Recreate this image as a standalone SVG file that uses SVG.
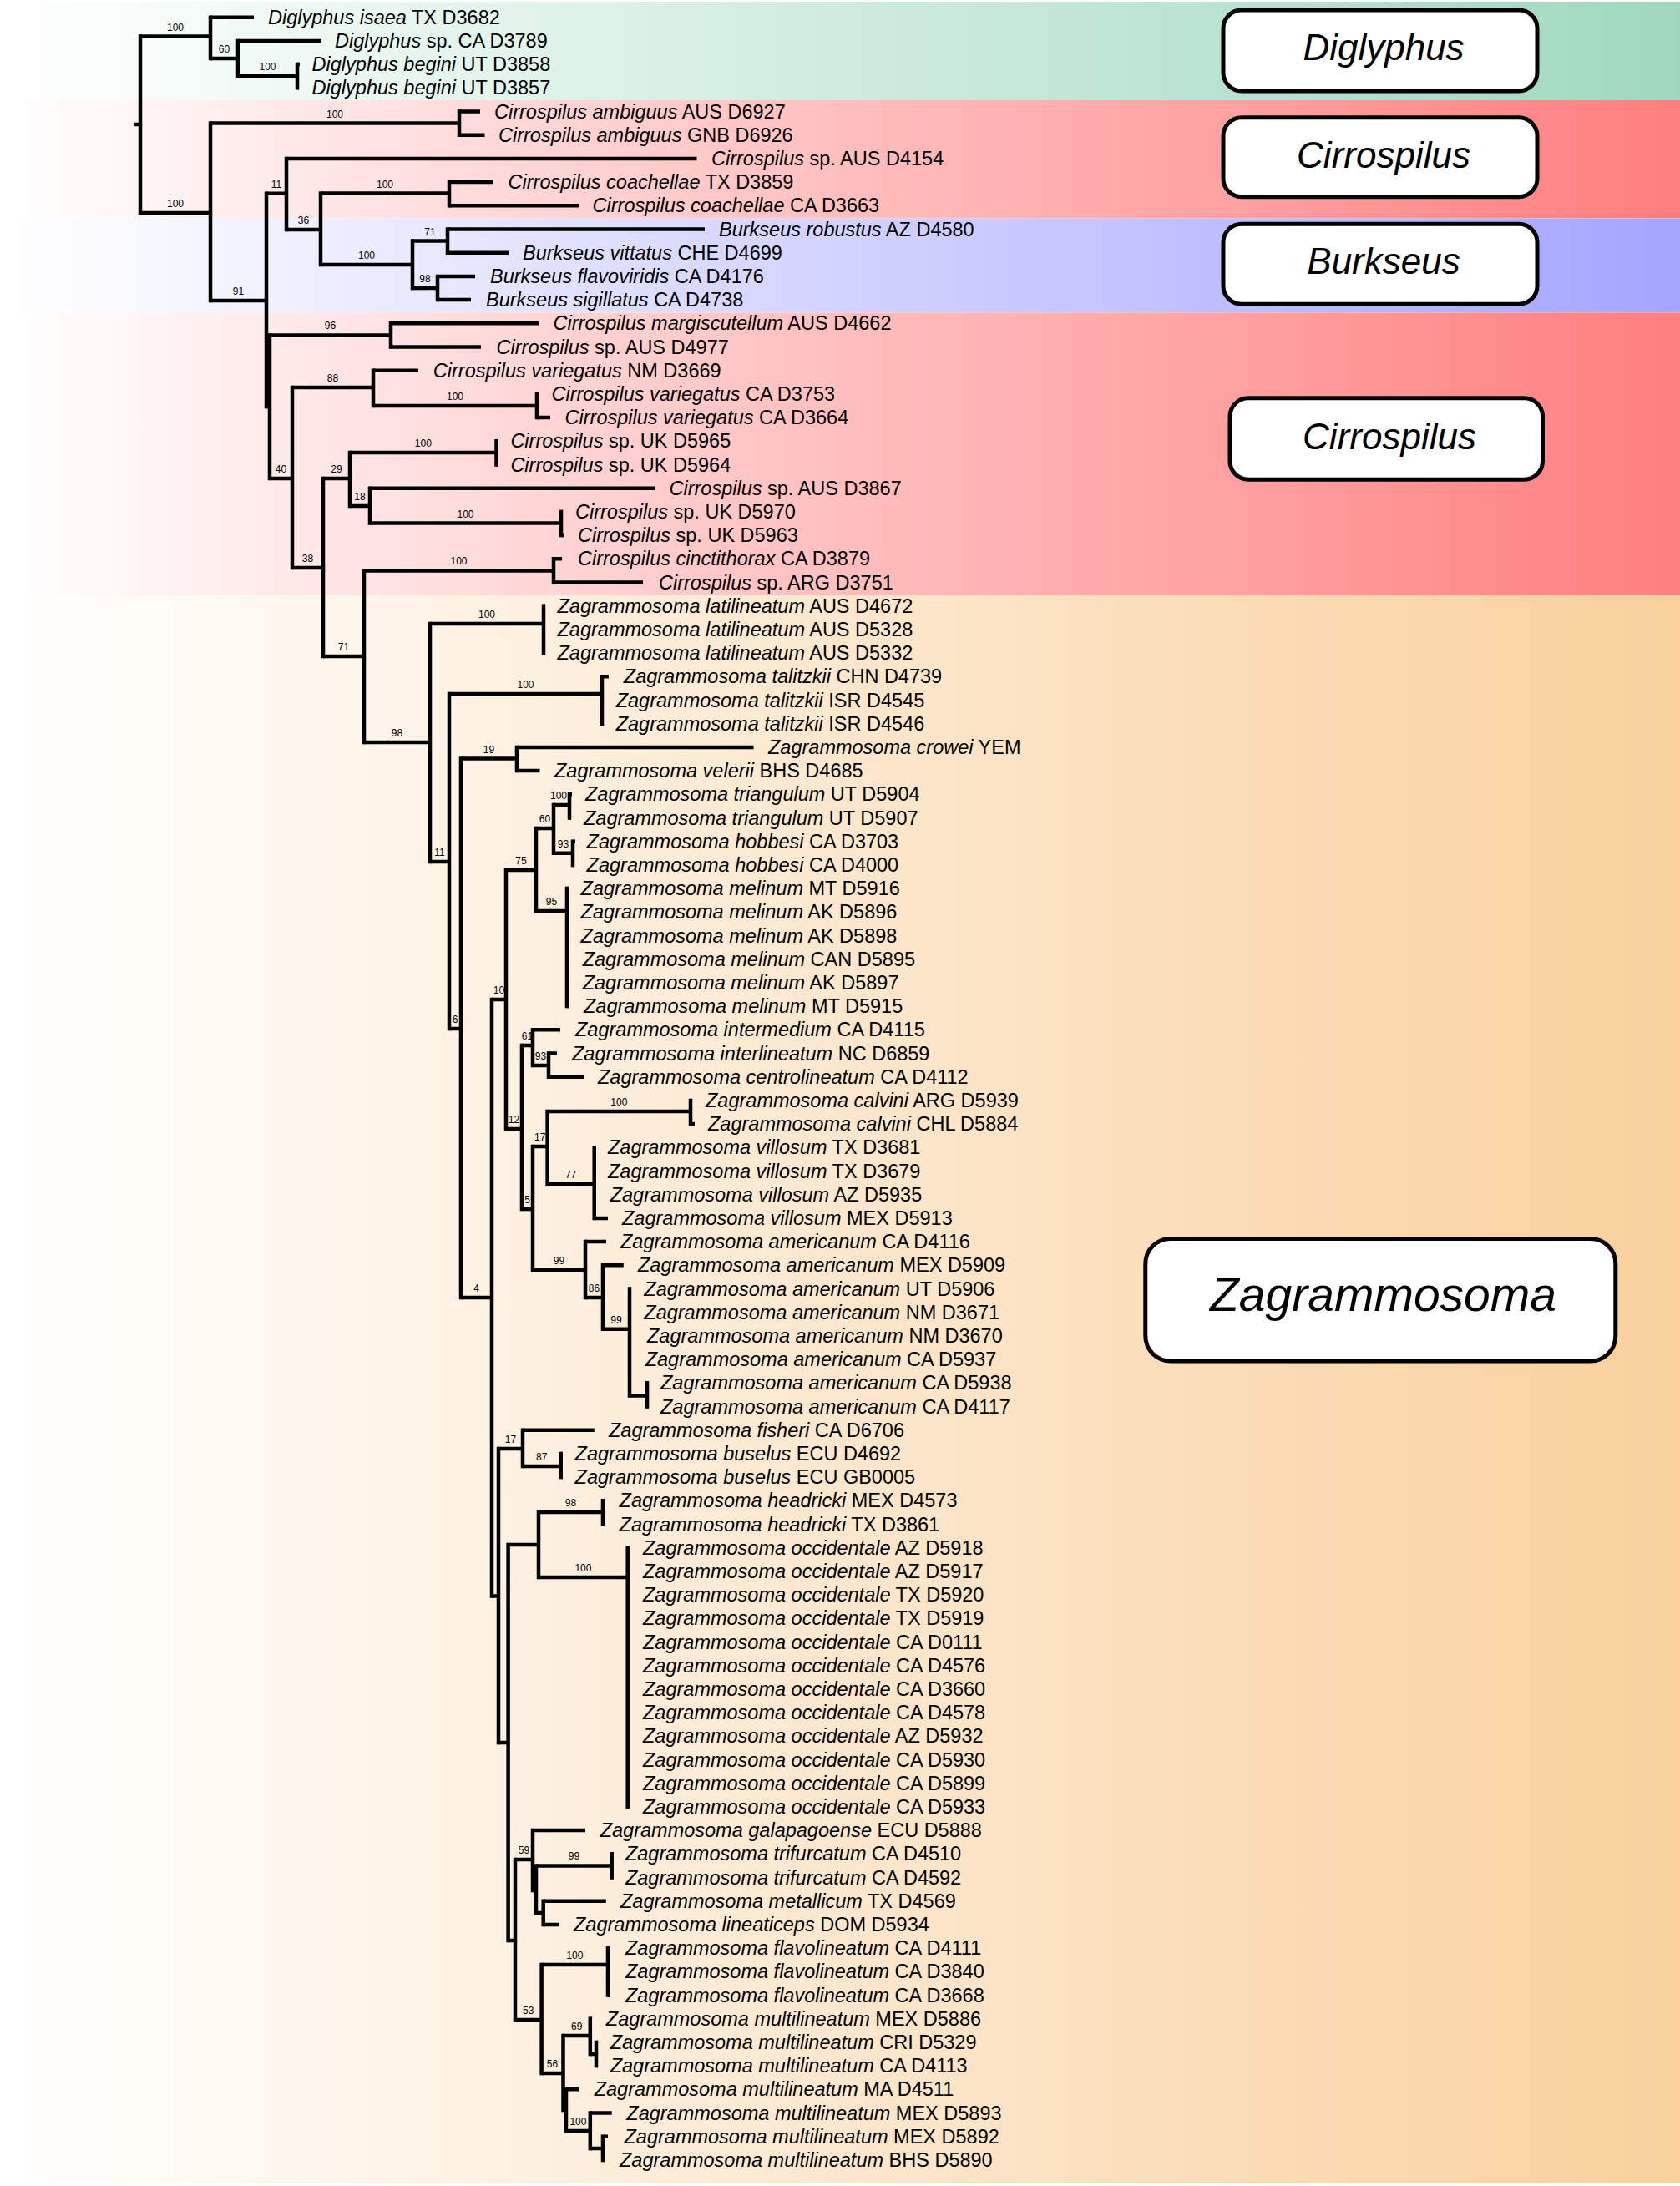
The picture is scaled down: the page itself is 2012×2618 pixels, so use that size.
<svg xmlns="http://www.w3.org/2000/svg" width="2012" height="2618" viewBox="0 0 2012 2618">
<defs>
<linearGradient id="gG" gradientUnits="userSpaceOnUse" x1="0" y1="0" x2="2012" y2="0"><stop offset="0" stop-color="#ffffff"/><stop offset="1" stop-color="#9fd8bf"/></linearGradient>
<linearGradient id="gR" gradientUnits="userSpaceOnUse" x1="0" y1="0" x2="2012" y2="0"><stop offset="0" stop-color="#ffffff"/><stop offset="1" stop-color="#ff7e7e"/></linearGradient>
<linearGradient id="gB" gradientUnits="userSpaceOnUse" x1="0" y1="0" x2="2012" y2="0"><stop offset="0" stop-color="#ffffff"/><stop offset="1" stop-color="#a5a5ff"/></linearGradient>
<linearGradient id="gO" gradientUnits="userSpaceOnUse" x1="0" y1="0" x2="2012" y2="0"><stop offset="0" stop-color="#ffffff"/><stop offset="1" stop-color="#f9d09c"/></linearGradient>
<style>
.v{fill:none;stroke:#000;stroke-width:4.5;stroke-linecap:square}
.h{fill:none;stroke:#000;stroke-width:4.5;stroke-linecap:butt}
.lf{font-family:"Liberation Sans",Arial,sans-serif;font-size:23.5px;fill:#000}
.i{font-style:italic}
.bs{font-family:"Liberation Sans",Arial,sans-serif;font-size:12px;text-anchor:middle;fill:#000}
.box rect{fill:#fff;stroke:#000;stroke-width:5}
.box text{font-family:"Liberation Sans",Arial,sans-serif;font-style:italic;text-anchor:middle;fill:#000}
</style>
</defs>
<rect width="2012" height="2618" fill="#fff"/>
<g id="bands">
<rect x="0" y="2" width="2012" height="118" fill="url(#gG)"/>
<rect x="0" y="120" width="2012" height="141.5" fill="url(#gR)"/>
<rect x="0" y="261.5" width="2012" height="113" fill="url(#gB)"/>
<rect x="0" y="374.5" width="2012" height="338.5" fill="url(#gR)"/>
<rect x="0" y="713" width="2012" height="1902" fill="url(#gO)"/>
</g>
<g id="branches">
<path class="v" d="M168 43.5V255 M252 20.7V70 M285 48.9V91.2 M356 77.1V105.3 M252 147.6V360 M550 133.5V161.7 M319 231.7V487 M343 189.9V275 M384 231.5V317 M538 218.1V246.3 M494 288.6V345 M536 274.5V302.7 M524 330.9V359.1 M323 401.4V573 M468 387.3V415.5 M350 464V680 M447 443.7V486 M643 471.9V500.1 M387 573V786 M419 542V606 M594.5 528.3V556.5 M443 584.7V626.5 M672 612.9V641.1 M436 683.4V889 M663 669.3V697.5 M515 747V1032 M651 725.7V782.1 M538 831V1232 M721 810.3V866.7 M552 908.5V1554 M619 894.9V923.1 M589 1197V1911.5 M606 1042V1352 M642 992V1091 M663 964V1021.8 M682 951.3V979.5 M686 1007.7V1035.9 M679 1064.1V1205.1 M625 1252V1448 M638 1233.3V1276 M657 1261.5V1289.7 M638 1373V1520.7 M655.6 1331V1417.7 M827 1317.9V1346.1 M711.7 1374.3V1458.9 M701 1487.1V1554 M722 1515.3V1591.7 M754 1543.5V1671.5 M775 1656.3V1684.5 M597 1735V2087 M626 1712.7V1756 M671.7 1740.9V1769.1 M608.6 1850V2324 M645 1811V1889 M722 1797.3V1825.5 M751.7 1853.7V2163.9 M617 2227V2419 M638 2192.1V2264 M642 2234.4V2291 M732.7 2220.3V2248.5 M650.7 2276.7V2304.9 M648.6 2353V2483 M728 2333.1V2389.5 M674.5 2438V2527 M706.8 2417.7V2460 M714 2445.9V2474.1 M678 2502.3V2552 M706.8 2530.5V2573 M722 2558.7V2586.9"/>
<path class="h" d="M161 149H168 M168 43.5H252 M252 20.7H304 M252 70H285 M285 48.9H385 M285 91.2H356 M356 77.1H359 M356 105.3H357.5 M168 255H252 M252 147.6H550 M550 133.5H575 M550 161.7H580.5 M252 360H319 M319 231.7H343 M343 189.9H834.5 M343 275H384 M384 231.5H538 M538 218.1H591 M538 246.3H693 M384 317H494 M494 288.6H536 M536 274.5H844 M536 302.7H609 M494 345H524 M524 330.9H569 M524 359.1H564 M319 487H323 M323 401.4H468 M468 387.3H645 M468 415.5H576 M323 573H350 M350 464H447 M447 443.7H501 M447 486H643 M643 471.9H645.5 M643 500.1H659 M350 680H387 M387 573H419 M419 542H594.5 M594.5 528.3H596.5 M594.5 556.5H596.5 M419 606H443 M443 584.7H784 M443 626.5H672 M672 612.9H674 M672 641.1H675 M387 786H436 M436 683.4H663 M663 669.3H673 M663 697.5H770 M436 889H515 M515 747H651 M651 725.7H653 M651 753.9H653 M651 782.1H653 M515 1032H538 M538 831H721 M721 810.3H729 M721 838.5H723 M721 866.7H723 M538 1232H552 M552 908.5H619 M619 894.9H902.5 M619 923.1H646.5 M552 1554H589 M589 1197H606 M606 1042H642 M642 992H663 M663 964H682 M682 951.3H685 M682 979.5H684 M663 1021.8H686 M686 1007.7H689 M686 1035.9H688 M642 1091H679 M679 1064.1H681 M679 1092.3H681 M679 1120.5H681 M679 1148.7H681 M679 1176.9H681 M679 1205.1H681 M606 1352H625 M625 1252H638 M638 1233.3H671 M638 1276H657 M657 1261.5H667 M657 1289.7H699.5 M625 1448H638 M638 1373H655.6 M655.6 1331H827 M827 1317.9H829 M827 1346.1H832 M655.6 1417.7H711.7 M711.7 1374.3H714 M711.7 1402.5H714 M711.7 1430.7H714 M711.7 1458.9H728 M638 1520.7H701 M701 1487.1H726 M701 1554H722 M722 1515.3H746.8 M722 1591.7H754 M754 1543.5H756 M754 1571.7H756 M754 1599.9H756 M754 1628.1H756 M754 1671.5H775 M775 1656.3H777 M775 1684.5H777 M589 1911.5H597 M597 1735H626 M626 1712.7H711.7 M626 1756H671.7 M671.7 1740.9H673.5 M671.7 1769.1H673.5 M597 2087H608.6 M608.6 1850H645 M645 1811H722 M722 1797.3H724 M722 1825.5H724 M645 1889H751.7 M608.6 2324H617 M617 2227H638 M638 2192.1H701 M638 2264H642 M642 2234.4H732.7 M732.7 2220.3H734.5 M732.7 2248.5H734.5 M642 2291H650.7 M650.7 2276.7H725.8 M650.7 2304.9H669.6 M617 2419H648.6 M648.6 2353H728 M728 2333.1H730 M728 2361.3H730 M728 2389.5H730 M648.6 2483H674.5 M674.5 2438H706.8 M706.8 2417.7H709 M706.8 2460H714 M714 2445.9H716 M714 2474.1H716 M674.5 2527H678 M678 2502.3H694 M678 2552H706.8 M706.8 2530.5H732.7 M706.8 2573H722 M722 2558.7H728 M722 2586.9H724"/>
</g>
<g id="support">
<text class="bs" x="210" y="36.5">100</text>
<text class="bs" x="268.5" y="63">60</text>
<text class="bs" x="320.5" y="84">100</text>
<text class="bs" x="210" y="248">100</text>
<text class="bs" x="401" y="140.6">100</text>
<text class="bs" x="285.5" y="353">91</text>
<text class="bs" x="331" y="224.7">11</text>
<text class="bs" x="363.5" y="268">36</text>
<text class="bs" x="461" y="224.5">100</text>
<text class="bs" x="439" y="310">100</text>
<text class="bs" x="515" y="281.6">71</text>
<text class="bs" x="509" y="338">98</text>
<text class="bs" x="395.5" y="394.4">96</text>
<text class="bs" x="336.5" y="566">40</text>
<text class="bs" x="398.5" y="457">88</text>
<text class="bs" x="545" y="479">100</text>
<text class="bs" x="368.5" y="673">38</text>
<text class="bs" x="403" y="566">29</text>
<text class="bs" x="506.8" y="535">100</text>
<text class="bs" x="431" y="599">18</text>
<text class="bs" x="557.5" y="619.5">100</text>
<text class="bs" x="411.5" y="779">71</text>
<text class="bs" x="549.5" y="676.4">100</text>
<text class="bs" x="475.5" y="882">98</text>
<text class="bs" x="583" y="740">100</text>
<text class="bs" x="526.5" y="1025">11</text>
<text class="bs" x="629.5" y="824">100</text>
<text class="bs" x="545" y="1225">6</text>
<text class="bs" x="585.5" y="901.5">19</text>
<text class="bs" x="570.5" y="1547">4</text>
<text class="bs" x="597.5" y="1190">10</text>
<text class="bs" x="624" y="1035">75</text>
<text class="bs" x="652.5" y="985">60</text>
<text class="bs" x="669" y="957">100</text>
<text class="bs" x="674.5" y="1014.8">93</text>
<text class="bs" x="660.5" y="1084">95</text>
<text class="bs" x="631.5" y="1245">61</text>
<text class="bs" x="647.5" y="1269">93</text>
<text class="bs" x="615.5" y="1345">12</text>
<text class="bs" x="631.5" y="1441">5</text>
<text class="bs" x="646.8" y="1366">17</text>
<text class="bs" x="741.3" y="1324">100</text>
<text class="bs" x="683.6" y="1410.7">77</text>
<text class="bs" x="669.5" y="1513.7">99</text>
<text class="bs" x="711.5" y="1547">86</text>
<text class="bs" x="738" y="1584.7">99</text>
<text class="bs" x="611.5" y="1728">17</text>
<text class="bs" x="648.8" y="1749">87</text>
<text class="bs" x="683.5" y="1804">98</text>
<text class="bs" x="698.4" y="1882">100</text>
<text class="bs" x="627.5" y="2220">59</text>
<text class="bs" x="687.4" y="2227.4">99</text>
<text class="bs" x="632.8" y="2412">53</text>
<text class="bs" x="688.3" y="2346">100</text>
<text class="bs" x="661.5" y="2476">56</text>
<text class="bs" x="690.7" y="2431">69</text>
<text class="bs" x="692.4" y="2545">100</text>
</g>
<g id="leaf-01"><text class="lf" x="321" y="28.7"><tspan class="i">Diglyphus isaea</tspan> TX D3682</text></g>
<g id="leaf-02"><text class="lf" x="401" y="56.9"><tspan class="i">Diglyphus</tspan> sp. CA D3789</text></g>
<g id="leaf-03"><text class="lf" x="373.6" y="85.1"><tspan class="i">Diglyphus begini</tspan> UT D3858</text></g>
<g id="leaf-04"><text class="lf" x="373.6" y="113.3"><tspan class="i">Diglyphus begini</tspan> UT D3857</text></g>
<g id="leaf-05"><text class="lf" x="592" y="141.5"><tspan class="i">Cirrospilus ambiguus</tspan> AUS D6927</text></g>
<g id="leaf-06"><text class="lf" x="597" y="169.7"><tspan class="i">Cirrospilus ambiguus</tspan> GNB D6926</text></g>
<g id="leaf-07"><text class="lf" x="852" y="197.9"><tspan class="i">Cirrospilus</tspan> sp. AUS D4154</text></g>
<g id="leaf-08"><text class="lf" x="608.6" y="226.1"><tspan class="i">Cirrospilus coachellae</tspan> TX D3859</text></g>
<g id="leaf-09"><text class="lf" x="709.6" y="254.3"><tspan class="i">Cirrospilus coachellae</tspan> CA D3663</text></g>
<g id="leaf-10"><text class="lf" x="861" y="282.5"><tspan class="i">Burkseus robustus</tspan> AZ D4580</text></g>
<g id="leaf-11"><text class="lf" x="626" y="310.7"><tspan class="i">Burkseus vittatus</tspan> CHE D4699</text></g>
<g id="leaf-12"><text class="lf" x="587" y="338.9"><tspan class="i">Burkseus flavoviridis</tspan> CA D4176</text></g>
<g id="leaf-13"><text class="lf" x="582" y="367.1"><tspan class="i">Burkseus sigillatus</tspan> CA D4738</text></g>
<g id="leaf-14"><text class="lf" x="662.6" y="395.3"><tspan class="i">Cirrospilus margiscutellum</tspan> AUS D4662</text></g>
<g id="leaf-15"><text class="lf" x="594.6" y="423.5"><tspan class="i">Cirrospilus</tspan> sp. AUS D4977</text></g>
<g id="leaf-16"><text class="lf" x="518.8" y="451.7"><tspan class="i">Cirrospilus variegatus</tspan> NM D3669</text></g>
<g id="leaf-17"><text class="lf" x="660.5" y="479.9"><tspan class="i">Cirrospilus variegatus</tspan> CA D3753</text></g>
<g id="leaf-18"><text class="lf" x="676.6" y="508.1"><tspan class="i">Cirrospilus variegatus</tspan> CA D3664</text></g>
<g id="leaf-19"><text class="lf" x="611.4" y="536.3"><tspan class="i">Cirrospilus</tspan> sp. UK D5965</text></g>
<g id="leaf-20"><text class="lf" x="611.4" y="564.5"><tspan class="i">Cirrospilus</tspan> sp. UK D5964</text></g>
<g id="leaf-21"><text class="lf" x="801.5" y="592.7"><tspan class="i">Cirrospilus</tspan> sp. AUS D3867</text></g>
<g id="leaf-22"><text class="lf" x="689" y="620.9"><tspan class="i">Cirrospilus</tspan> sp. UK D5970</text></g>
<g id="leaf-23"><text class="lf" x="692" y="649.1"><tspan class="i">Cirrospilus</tspan> sp. UK D5963</text></g>
<g id="leaf-24"><text class="lf" x="692" y="677.3"><tspan class="i">Cirrospilus cinctithorax</tspan> CA D3879</text></g>
<g id="leaf-25"><text class="lf" x="789" y="705.5"><tspan class="i">Cirrospilus</tspan> sp. ARG D3751</text></g>
<g id="leaf-26"><text class="lf" x="667.5" y="733.7"><tspan class="i">Zagrammosoma latilineatum</tspan> AUS D4672</text></g>
<g id="leaf-27"><text class="lf" x="667.5" y="761.9"><tspan class="i">Zagrammosoma latilineatum</tspan> AUS D5328</text></g>
<g id="leaf-28"><text class="lf" x="667.5" y="790.1"><tspan class="i">Zagrammosoma latilineatum</tspan> AUS D5332</text></g>
<g id="leaf-29"><text class="lf" x="746.8" y="818.3"><tspan class="i">Zagrammosoma talitzkii</tspan> CHN D4739</text></g>
<g id="leaf-30"><text class="lf" x="737.7" y="846.5"><tspan class="i">Zagrammosoma talitzkii</tspan> ISR D4545</text></g>
<g id="leaf-31"><text class="lf" x="737.7" y="874.7"><tspan class="i">Zagrammosoma talitzkii</tspan> ISR D4546</text></g>
<g id="leaf-32"><text class="lf" x="920" y="902.9"><tspan class="i">Zagrammosoma crowei</tspan> YEM</text></g>
<g id="leaf-33"><text class="lf" x="664" y="931.1"><tspan class="i">Zagrammosoma velerii</tspan> BHS D4685</text></g>
<g id="leaf-34"><text class="lf" x="701" y="959.3"><tspan class="i">Zagrammosoma triangulum</tspan> UT D5904</text></g>
<g id="leaf-35"><text class="lf" x="699" y="987.5"><tspan class="i">Zagrammosoma triangulum</tspan> UT D5907</text></g>
<g id="leaf-36"><text class="lf" x="702.6" y="1015.7"><tspan class="i">Zagrammosoma hobbesi</tspan> CA D3703</text></g>
<g id="leaf-37"><text class="lf" x="702.6" y="1043.9"><tspan class="i">Zagrammosoma hobbesi</tspan> CA D4000</text></g>
<g id="leaf-38"><text class="lf" x="695.6" y="1072.1"><tspan class="i">Zagrammosoma melinum</tspan> MT D5916</text></g>
<g id="leaf-39"><text class="lf" x="695.6" y="1100.3"><tspan class="i">Zagrammosoma melinum</tspan> AK D5896</text></g>
<g id="leaf-40"><text class="lf" x="695.6" y="1128.5"><tspan class="i">Zagrammosoma melinum</tspan> AK D5898</text></g>
<g id="leaf-41"><text class="lf" x="697.7" y="1156.7"><tspan class="i">Zagrammosoma melinum</tspan> CAN D5895</text></g>
<g id="leaf-42"><text class="lf" x="697.7" y="1184.9"><tspan class="i">Zagrammosoma melinum</tspan> AK D5897</text></g>
<g id="leaf-43"><text class="lf" x="699" y="1213.1"><tspan class="i">Zagrammosoma melinum</tspan> MT D5915</text></g>
<g id="leaf-44"><text class="lf" x="689" y="1241.3"><tspan class="i">Zagrammosoma intermedium</tspan> CA D4115</text></g>
<g id="leaf-45"><text class="lf" x="685" y="1269.5"><tspan class="i">Zagrammosoma interlineatum</tspan> NC D6859</text></g>
<g id="leaf-46"><text class="lf" x="716" y="1297.7"><tspan class="i">Zagrammosoma centrolineatum</tspan> CA D4112</text></g>
<g id="leaf-47"><text class="lf" x="845" y="1325.9"><tspan class="i">Zagrammosoma calvini</tspan> ARG D5939</text></g>
<g id="leaf-48"><text class="lf" x="848" y="1354.1"><tspan class="i">Zagrammosoma calvini</tspan> CHL D5884</text></g>
<g id="leaf-49"><text class="lf" x="728" y="1382.3"><tspan class="i">Zagrammosoma villosum</tspan> TX D3681</text></g>
<g id="leaf-50"><text class="lf" x="728" y="1410.5"><tspan class="i">Zagrammosoma villosum</tspan> TX D3679</text></g>
<g id="leaf-51"><text class="lf" x="730.7" y="1438.7"><tspan class="i">Zagrammosoma villosum</tspan> AZ D5935</text></g>
<g id="leaf-52"><text class="lf" x="745" y="1466.9"><tspan class="i">Zagrammosoma villosum</tspan> MEX D5913</text></g>
<g id="leaf-53"><text class="lf" x="743" y="1495.1"><tspan class="i">Zagrammosoma americanum</tspan> CA D4116</text></g>
<g id="leaf-54"><text class="lf" x="764" y="1523.3"><tspan class="i">Zagrammosoma americanum</tspan> MEX D5909</text></g>
<g id="leaf-55"><text class="lf" x="771.3" y="1551.5"><tspan class="i">Zagrammosoma americanum</tspan> UT D5906</text></g>
<g id="leaf-56"><text class="lf" x="771.3" y="1579.7"><tspan class="i">Zagrammosoma americanum</tspan> NM D3671</text></g>
<g id="leaf-57"><text class="lf" x="775" y="1607.9"><tspan class="i">Zagrammosoma americanum</tspan> NM D3670</text></g>
<g id="leaf-58"><text class="lf" x="772.7" y="1636.1"><tspan class="i">Zagrammosoma americanum</tspan> CA D5937</text></g>
<g id="leaf-59"><text class="lf" x="791" y="1664.3"><tspan class="i">Zagrammosoma americanum</tspan> CA D5938</text></g>
<g id="leaf-60"><text class="lf" x="791" y="1692.5"><tspan class="i">Zagrammosoma americanum</tspan> CA D4117</text></g>
<g id="leaf-61"><text class="lf" x="729" y="1720.7"><tspan class="i">Zagrammosoma fisheri</tspan> CA D6706</text></g>
<g id="leaf-62"><text class="lf" x="688.6" y="1748.9"><tspan class="i">Zagrammosoma buselus</tspan> ECU D4692</text></g>
<g id="leaf-63"><text class="lf" x="688.6" y="1777.1"><tspan class="i">Zagrammosoma buselus</tspan> ECU GB0005</text></g>
<g id="leaf-64"><text class="lf" x="741.6" y="1805.3"><tspan class="i">Zagrammosoma headricki</tspan> MEX D4573</text></g>
<g id="leaf-65"><text class="lf" x="741.6" y="1833.5"><tspan class="i">Zagrammosoma headricki</tspan> TX D3861</text></g>
<g id="leaf-66"><text class="lf" x="770" y="1861.7"><tspan class="i">Zagrammosoma occidentale</tspan> AZ D5918</text></g>
<g id="leaf-67"><text class="lf" x="770" y="1889.9"><tspan class="i">Zagrammosoma occidentale</tspan> AZ D5917</text></g>
<g id="leaf-68"><text class="lf" x="770" y="1918.1"><tspan class="i">Zagrammosoma occidentale</tspan> TX D5920</text></g>
<g id="leaf-69"><text class="lf" x="770" y="1946.3"><tspan class="i">Zagrammosoma occidentale</tspan> TX D5919</text></g>
<g id="leaf-70"><text class="lf" x="770" y="1974.5"><tspan class="i">Zagrammosoma occidentale</tspan> CA D0111</text></g>
<g id="leaf-71"><text class="lf" x="770" y="2002.7"><tspan class="i">Zagrammosoma occidentale</tspan> CA D4576</text></g>
<g id="leaf-72"><text class="lf" x="770" y="2030.9"><tspan class="i">Zagrammosoma occidentale</tspan> CA D3660</text></g>
<g id="leaf-73"><text class="lf" x="770" y="2059.1"><tspan class="i">Zagrammosoma occidentale</tspan> CA D4578</text></g>
<g id="leaf-74"><text class="lf" x="770" y="2087.3"><tspan class="i">Zagrammosoma occidentale</tspan> AZ D5932</text></g>
<g id="leaf-75"><text class="lf" x="770" y="2115.5"><tspan class="i">Zagrammosoma occidentale</tspan> CA D5930</text></g>
<g id="leaf-76"><text class="lf" x="770" y="2143.7"><tspan class="i">Zagrammosoma occidentale</tspan> CA D5899</text></g>
<g id="leaf-77"><text class="lf" x="770" y="2171.9"><tspan class="i">Zagrammosoma occidentale</tspan> CA D5933</text></g>
<g id="leaf-78"><text class="lf" x="718.7" y="2200.1"><tspan class="i">Zagrammosoma galapagoense</tspan> ECU D5888</text></g>
<g id="leaf-79"><text class="lf" x="748.9" y="2228.3"><tspan class="i">Zagrammosoma trifurcatum</tspan> CA D4510</text></g>
<g id="leaf-80"><text class="lf" x="748.9" y="2256.5"><tspan class="i">Zagrammosoma trifurcatum</tspan> CA D4592</text></g>
<g id="leaf-81"><text class="lf" x="743" y="2284.7"><tspan class="i">Zagrammosoma metallicum</tspan> TX D4569</text></g>
<g id="leaf-82"><text class="lf" x="687" y="2312.9"><tspan class="i">Zagrammosoma lineaticeps</tspan> DOM D5934</text></g>
<g id="leaf-83"><text class="lf" x="749" y="2341.1"><tspan class="i">Zagrammosoma flavolineatum</tspan> CA D4111</text></g>
<g id="leaf-84"><text class="lf" x="749" y="2369.3"><tspan class="i">Zagrammosoma flavolineatum</tspan> CA D3840</text></g>
<g id="leaf-85"><text class="lf" x="749" y="2397.5"><tspan class="i">Zagrammosoma flavolineatum</tspan> CA D3668</text></g>
<g id="leaf-86"><text class="lf" x="725.8" y="2425.7"><tspan class="i">Zagrammosoma multilineatum</tspan> MEX D5886</text></g>
<g id="leaf-87"><text class="lf" x="730.7" y="2453.9"><tspan class="i">Zagrammosoma multilineatum</tspan> CRI D5329</text></g>
<g id="leaf-88"><text class="lf" x="730.7" y="2482.1"><tspan class="i">Zagrammosoma multilineatum</tspan> CA D4113</text></g>
<g id="leaf-89"><text class="lf" x="711.7" y="2510.3"><tspan class="i">Zagrammosoma multilineatum</tspan> MA D4511</text></g>
<g id="leaf-90"><text class="lf" x="750.3" y="2538.5"><tspan class="i">Zagrammosoma multilineatum</tspan> MEX D5893</text></g>
<g id="leaf-91"><text class="lf" x="747.5" y="2566.7"><tspan class="i">Zagrammosoma multilineatum</tspan> MEX D5892</text></g>
<g id="leaf-92"><text class="lf" x="742" y="2594.9"><tspan class="i">Zagrammosoma multilineatum</tspan> BHS D5890</text></g>
<g id="box-diglyphus" class="box"><rect x="1465" y="12" width="376" height="97" rx="22"/><text x="1657" y="71.7" font-size="44">Diglyphus</text></g>
<g id="box-cirrospilus-1" class="box"><rect x="1465" y="140.8" width="376" height="95" rx="22"/><text x="1657" y="201" font-size="44">Cirrospilus</text></g>
<g id="box-burkseus" class="box"><rect x="1465" y="268.2" width="376" height="96" rx="22"/><text x="1657" y="328.3" font-size="44">Burkseus</text></g>
<g id="box-cirrospilus-2" class="box"><rect x="1473" y="476.8" width="374.5" height="97.4" rx="22"/><text x="1664" y="538.3" font-size="44">Cirrospilus</text></g>
<g id="box-zagrammosoma" class="box"><rect x="1371.8" y="1483.5" width="563" height="146.5" rx="30"/><text x="1656.5" y="1570" font-size="57">Zagrammosoma</text></g>
</svg>
